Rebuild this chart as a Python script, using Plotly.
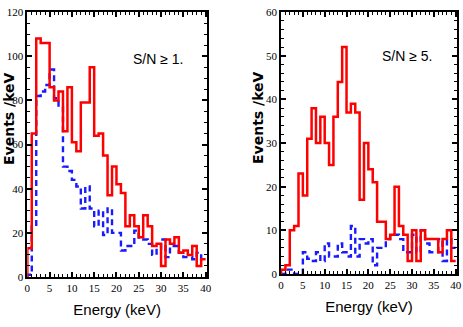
import plotly.graph_objects as go

# bin edges in keV (1 keV bins)
edges = [0, 1, 2, 3, 4, 5, 6, 7, 8, 9, 10, 11, 12, 13, 14, 15, 16, 17, 18, 19, 20,
         21, 22, 23, 24, 25, 26, 27, 28, 29, 30, 31, 32, 33, 34, 35, 36, 37, 38, 39, 40]

# S/N >= 1 panel
red_sn1 = [13, 65, 108, 106, 106, 86, 80, 84, 66, 86, 61, 57, 79, 79, 95, 64, 65, 55, 37, 50,
           42, 38, 23, 28, 23, 18, 28, 23, 14, 15, 5, 17, 15, 18, 11, 12, 10, 14, 5, 8]
blue_sn1 = [1, 23, 82, 84, 87, 94, 81, 77, 50, 48, 44, 41, 31, 41, 31, 23, 30, 19, 31, 20,
            20, 12, 14, 14, 21, 17, 17, 15, 10, 13, 17, 9, 14, 14, 11, 9, 9, 8, 11, 8]

# S/N >= 5 panel
red_sn5 = [1, 2, 10, 11, 23, 18, 31, 38, 30, 36, 30, 25, 36, 44, 52, 37, 39, 37, 17, 30,
           24, 21, 12, 12, 8, 9, 20, 11, 9, 3, 10, 3, 10, 8, 8, 8, 5, 8, 10, 3]
blue_sn5 = [0, 1, 1, 0, 0, 5, 3.5, 3, 5, 3, 7, 4, 4, 7, 5, 4, 11, 4, 8, 7,
            8, 2, 6, 6, 8, 9, 9, 8, 5, 5, 9, 5, 10, 7, 5, 5, 8, 3, 8, 6]


def hist_xy(vals):
    xs = [edges[0]] + edges
    ys = [0] + vals + [vals[-1]]
    return xs, ys


fig = go.Figure()

panels = [
    (red_sn1, blue_sn1, "x", "y"),
    (red_sn5, blue_sn5, "x2", "y2"),
]
for red, blue, xa, ya in panels:
    bx, by = hist_xy(blue)
    fig.add_trace(go.Scatter(x=bx, y=by, mode="lines", line_shape="hv",
                             line=dict(color="#1a1aff", width=2.4, dash="6px,4px"),
                             xaxis=xa, yaxis=ya, showlegend=False))
    rx, ry = hist_xy(red)
    fig.add_trace(go.Scatter(x=rx, y=ry, mode="lines", line_shape="hv",
                             line=dict(color="#ff0000", width=2.5),
                             xaxis=xa, yaxis=ya, showlegend=False))

tickfont = dict(family="Liberation Serif", size=11, color="black")
axis_common = dict(
    showline=True, linecolor="black", linewidth=1.5, mirror="allticks",
    ticks="inside", ticklen=5, tickwidth=1.5, tickcolor="black",
    showgrid=False, zeroline=False, tickfont=tickfont, automargin=False,
)
xaxis_common = dict(axis_common, range=[0, 40.3], tick0=0, dtick=5, ticklabeloverflow="allow",
                    minor=dict(ticks="inside", ticklen=3, dtick=1, tickcolor="black", tickwidth=1),
                    title=dict(text="Energy (keV)", font=dict(family="Liberation Sans", size=15, color="black"),
                               standoff=12))

# y titles sit toward the top of the axis, as in the original
ytitle_font = dict(family="DejaVu Sans", size=14, color="black")

fig.update_layout(
    width=463, height=327,
    margin=dict(l=0, r=0, t=0, b=0),
    paper_bgcolor="white", plot_bgcolor="white",
    font=dict(color="black"),
    xaxis=dict(xaxis_common, domain=[0.059, 0.447], anchor="y"),
    yaxis=dict(axis_common, domain=[0.153, 0.963], anchor="x", range=[0, 120], dtick=20,
               minor=dict(ticks="inside", ticklen=3, dtick=5, tickcolor="black", tickwidth=1)),
    xaxis2=dict(xaxis_common, domain=[0.607, 0.987], anchor="y2"),
    yaxis2=dict(axis_common, domain=[0.162, 0.963], anchor="x2", range=[0, 60], dtick=10,
                minor=dict(ticks="inside", ticklen=3, dtick=2, tickcolor="black", tickwidth=1)),
    annotations=[
        dict(text="S/N \u2265 1.", x=0.88, y=0.86, xref="x domain", yref="y domain",
             showarrow=False, font=dict(family="Liberation Sans", size=14, color="black")),
        dict(text="S/N \u2265 5.", x=0.87, y=0.87, xref="x2 domain", yref="y2 domain",
             showarrow=False, font=dict(family="Liberation Sans", size=14, color="black")),
        dict(text="<b>Events /keV</b>", textangle=-90, x=9 / 463, y=1 - 119 / 327,
             xanchor="center", yanchor="middle",
             xref="paper", yref="paper", showarrow=False, font=ytitle_font),
        dict(text="<b>Events /keV</b>", textangle=-90, x=258 / 463, y=1 - 118 / 327,
             xanchor="center", yanchor="middle",
             xref="paper", yref="paper", showarrow=False, font=ytitle_font),
    ],
)

fig.write_html("out.html", config={"displayModeBar": False},
               post_script="document.body.style.margin='0px';")
